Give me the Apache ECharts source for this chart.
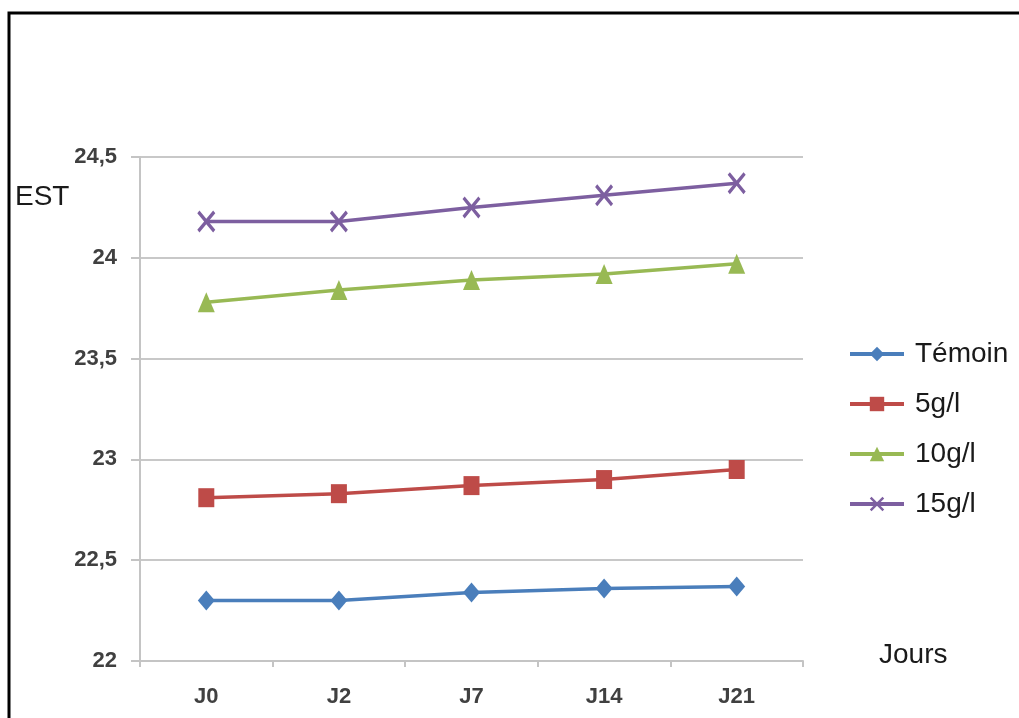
<!DOCTYPE html>
<html>
<head>
<meta charset="utf-8">
<script src="https://cdn.jsdelivr.net/npm/echarts@6/dist/echarts.min.js"></script>
<style>
  html, body { margin: 0; padding: 0; background: #fff; }
  #chart { width: 1019px; height: 718px; }
</style>
</head>
<body>
<div id="chart"></div>
<script>
// Jours de mesure
const jours = ['J0', 'J2', 'J7', 'J14', 'J21'];

// EST par traitement
const temoin = [22.30, 22.30, 22.34, 22.36, 22.37];
const dose5 = [22.81, 22.83, 22.87, 22.90, 22.95];
const dose10 = [23.78, 23.84, 23.89, 23.92, 23.97];
const dose15 = [24.18, 24.18, 24.25, 24.31, 24.37];

const seriesNames = ['Témoin', '5g/l', '10g/l', '15g/l'];

const FONT = '"Liberation Sans", Arial, sans-serif';
const CROSS = 'path://M0,1.2L1.2,0L5,3.8L8.8,0L10,1.2L6.2,5L10,8.8L8.8,10L5,6.2L1.2,10L0,8.8L3.8,5Z';

const chart = echarts.init(document.getElementById('chart'), null, { renderer: 'canvas' });

function lineSeries(name, data, color, symbol, size) {
  return {
    name: name,
    type: 'line',
    data: data,
    symbol: symbol,
    symbolSize: size,
    showAllSymbol: true,
    lineStyle: { color: color, width: 3.5 },
    itemStyle: { color: color },
    z: 3
  };
}

chart.setOption({
  animation: false,
  backgroundColor: '#fff',
  graphic: [
    {
      type: 'rect',
      shape: { x: 9, y: 13, width: 1030, height: 730 },
      style: { fill: 'none', stroke: '#000', lineWidth: 3 },
      silent: true
    },
    {
      type: 'text',
      left: 15, top: 183,
      style: { text: 'EST', font: '28px ' + FONT, fill: '#1a1a1a' }
    },
    {
      type: 'text',
      left: 879, top: 641,
      style: { text: 'Jours', font: '28px ' + FONT, fill: '#1a1a1a' }
    }
  ],
  legend: {
    orient: 'vertical',
    left: 843,
    top: 335,
    itemWidth: 54,
    itemHeight: 18,
    itemGap: 22,
    data: seriesNames,
    lineStyle: { width: 4 },
    textStyle: { fontFamily: FONT, fontSize: 28, lineHeight: 28, color: '#1a1a1a', padding: [0, 0, 0, 6] }
  },
  grid: { left: 140, right: 216, top: 157, bottom: 57, containLabel: false },
  xAxis: {
    type: 'category',
    data: jours,
    boundaryGap: true,
    axisLine: { lineStyle: { color: '#c4c4c4', width: 2 } },
    axisTick: { show: true, length: 6, lineStyle: { color: '#c4c4c4', width: 2 } },
    axisLabel: { margin: 25, fontFamily: FONT, fontSize: 22, fontWeight: 'bold', color: '#404040' }
  },
  yAxis: {
    type: 'value',
    min: 22,
    max: 24.5,
    interval: 0.5,
    axisLine: { show: true, lineStyle: { color: '#c4c4c4', width: 2 } },
    axisTick: { show: true, length: 9, lineStyle: { color: '#c4c4c4', width: 2 } },
    splitLine: { lineStyle: { color: '#c8c8c8', width: 2 } },
    axisLabel: {
      margin: 23,
      fontFamily: FONT, fontSize: 22, fontWeight: 'bold', color: '#404040',
      formatter: v => String(v).replace('.', ',')
    }
  },
  series: [
    lineSeries(seriesNames[0], temoin, '#4a7ebb', 'diamond', [17, 20]),
    lineSeries(seriesNames[1], dose5, '#be4b48', 'rect', [16, 19]),
    lineSeries(seriesNames[2], dose10, '#98b954', 'triangle', [17, 20]),
    lineSeries(seriesNames[3], dose15, '#7d5fa0', CROSS, [18, 22])
  ]
});
</script>
</body>
</html>
